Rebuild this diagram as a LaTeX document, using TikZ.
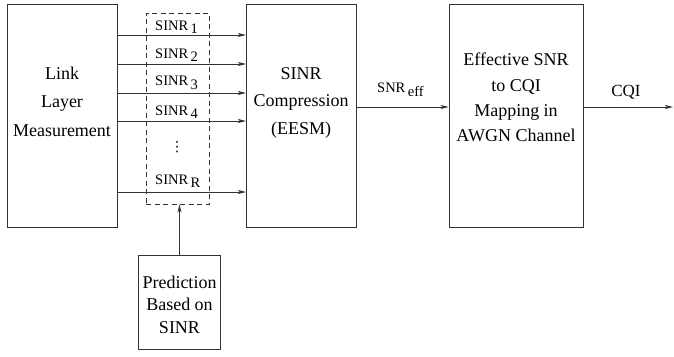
\documentclass[tikz,border=0pt]{standalone}
\usepackage{fontspec}
\setmainfont{Liberation Serif}
\newfontfamily\tms{LiberationSerif-Regular.ttf}
\newfontfamily\dvs{DejaVu Sans}
\usetikzlibrary{arrows.meta}
\begin{document}
\begin{tikzpicture}[x=1pt,y=-1pt,
  box/.style={draw=black!80,line width=0.9pt,inner sep=0pt},
  arr/.style={draw=black!80,line width=0.9pt,-{Stealth[length=8pt,width=4pt,inset=2pt]}},
  big/.style={font=\tms\fontsize{18}{#1}\selectfont,align=center,inner sep=0pt},
  lab/.style={font=\tms\fontsize{14.5}{17}\selectfont,inner sep=0pt,anchor=west}]
\useasboundingbox (0,0) rectangle (674,356);
% boxes
\node[box,minimum width=110,minimum height=223] (llm) at (62,115.5) {};
\node[box,minimum width=109.5,minimum height=223] (comp) at (301.2,115.5) {};
\node[box,minimum width=134,minimum height=223] (eff) at (516,115.5) {};
\node[box,minimum width=82.5,minimum height=94] (pred) at (179.5,302) {};
\node[box,dash pattern=on 5pt off 3.5pt,minimum width=63,minimum height=191] (dash) at (177.5,108.5) {};
% texts
\node[big=28.5] (tllm) at (62,101.5) {Link\\Layer\\Measurement};
\node[big=27.5] (tcomp) at (301.2,102.5) {SINR\\Compression\\(EESM)};
\node[big=25.3] (teff) at (516,97.5) {Effective SNR\\to CQI\\Mapping in\\AWGN Channel};
\node[big=22.5] (tpred) at (179.5,304.5) {Prediction\\Based on\\SINR};
% row coordinates
\coordinate (r1) at (0,35);
\coordinate (r2) at (0,64);
\coordinate (r3) at (0,93);
\coordinate (r4) at (0,121);
\coordinate (rR) at (0,192);
\coordinate (m) at (0,107);
\coordinate (out) at (673,107);
% SINR arrows
\foreach \r in {r1,r2,r3,r4,rR}
  \draw[arr] (llm.east |- \r) -- (comp.west |- \r);
% labels
\node[lab] (s1) at (155,27) {SINR\,\raisebox{-3.5pt}{1}};
\node[lab] (s2) at (155,55) {SINR\,\raisebox{-3.5pt}{2}};
\node[lab] (s3) at (155,83) {SINR\,\raisebox{-3.5pt}{3}};
\node[lab] (s4) at (155,112) {SINR\,\raisebox{-3.5pt}{4}};
\node[lab] (sR) at (155,181) {SINR\,\raisebox{-3.5pt}{R}};
\node[font=\dvs\fontsize{14}{17}\selectfont,inner sep=0pt] (dots) at (177,147) {⋮};
% other arrows
\draw[arr] (pred.north) -- (pred.north |- dash.south);
\draw[arr] (comp.east |- m) -- (eff.west |- m);
\draw[arr] (eff.east |- m) -- (out);
\node[lab] (seff) at (377,90) {SNR\,\raisebox{-3.5pt}{eff}};
\node[font=\tms\fontsize{17}{20}\selectfont,inner sep=0pt] (cqi) at (626,92) {CQI};
\end{tikzpicture}
\end{document}
